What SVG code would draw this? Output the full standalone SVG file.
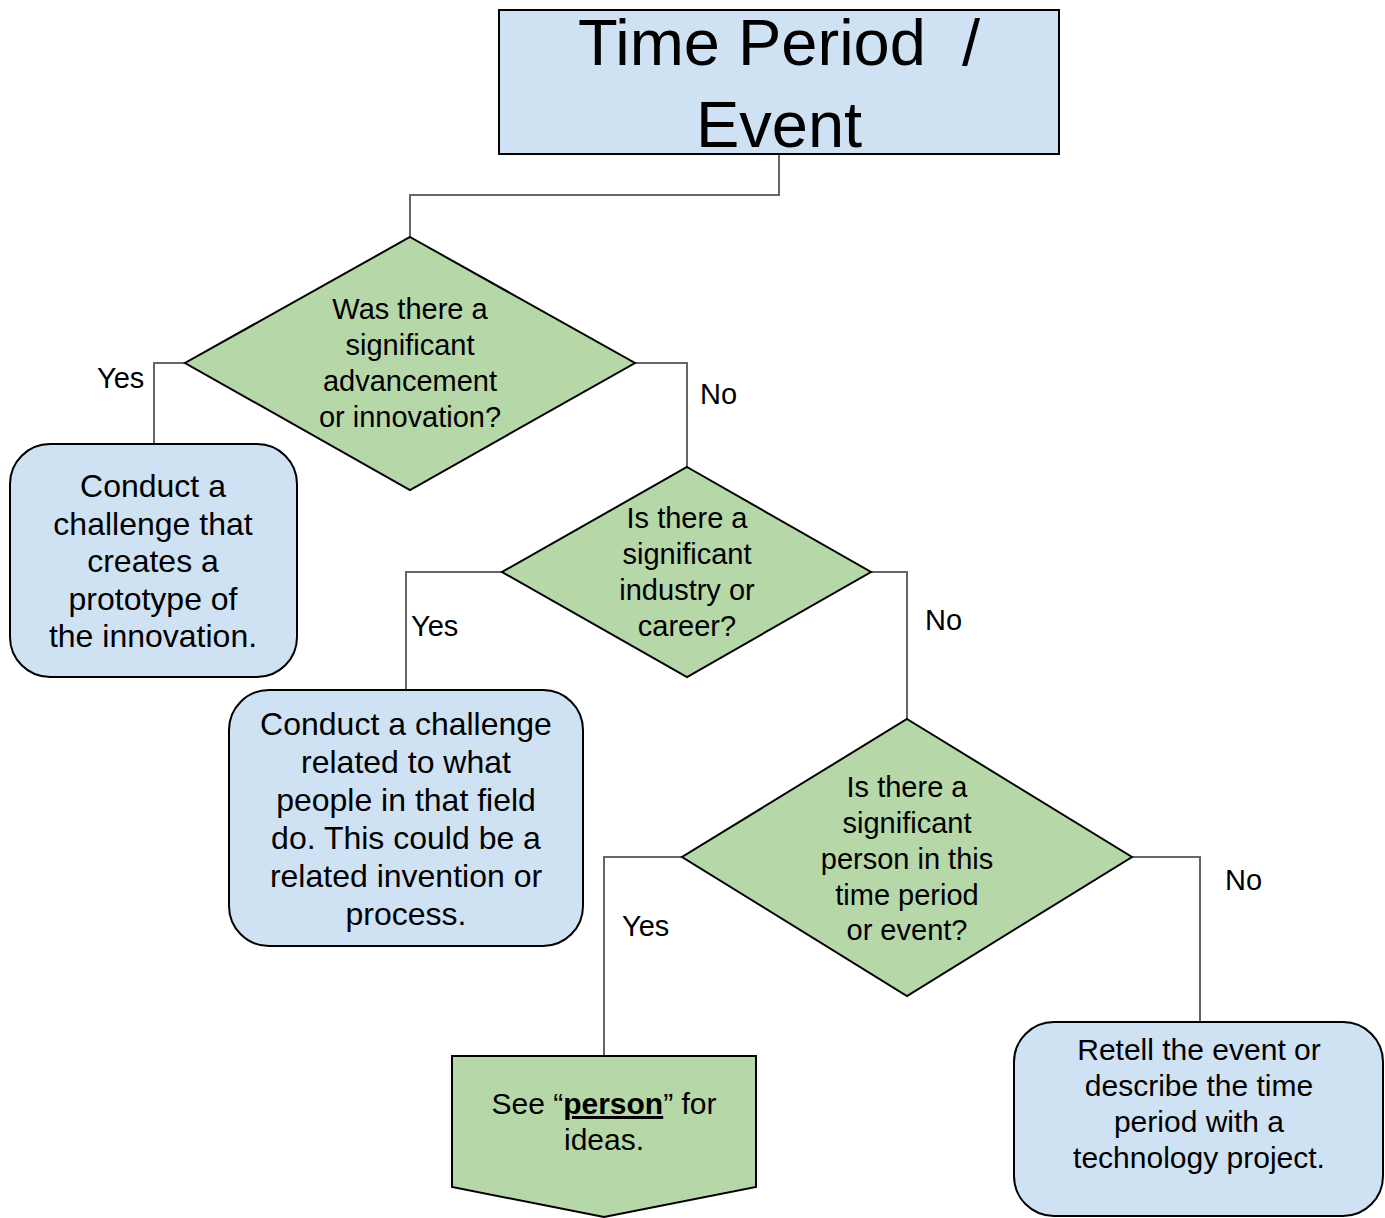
<svg xmlns="http://www.w3.org/2000/svg" width="1385" height="1218" viewBox="0 0 1385 1218">
<style>
.blue{fill:#cfe2f3;stroke:#000;stroke-width:2}
.green{fill:#b6d7a8;stroke:#000;stroke-width:2}
.conn{fill:none;stroke:#666;stroke-width:2}
text{font-family:"Liberation Sans",Arial,sans-serif;fill:#000;text-anchor:middle}
.q{font-size:29px}
.b{font-size:32px}
.s{font-size:30px}
.lbl{font-size:29px;text-anchor:start}
</style>
<rect width="1385" height="1218" fill="#fff"/>
<g id="connectors">
<polyline class="conn" points="779,154 779,195 410,195 410,237"/>
<polyline class="conn" points="185,363 154,363 154,444"/>
<polyline class="conn" points="635,363 687,363 687,467"/>
<polyline class="conn" points="502,572 406,572 406,690"/>
<polyline class="conn" points="871,572 907,572 907,719"/>
<polyline class="conn" points="682,857 604,857 604,1056"/>
<polyline class="conn" points="1132,857 1200,857 1200,1022"/>
<text class="lbl" x="97" y="388">Yes</text>
<text class="lbl" x="700" y="404">No</text>
<text class="lbl" x="411" y="636">Yes</text>
<text class="lbl" x="925" y="630">No</text>
<text class="lbl" x="622" y="936">Yes</text>
<text class="lbl" x="1225" y="890">No</text>
</g>
<g id="start">
<rect class="blue" x="499" y="10" width="560" height="144"/>
<text x="779" y="65" font-size="65" xml:space="preserve">Time Period  /</text>
<text x="779" y="147" font-size="65">Event</text>
</g>
<g id="q1">
<polygon class="green" points="410,237 635,363 410,490 185,363"/>
<text class="q" x="410" y="319">Was there a</text>
<text class="q" x="410" y="355">significant</text>
<text class="q" x="410" y="391">advancement</text>
<text class="q" x="410" y="427">or innovation?</text>
</g>
<g id="r1">
<rect class="blue" x="10" y="444" width="287" height="233" rx="40"/>
<text class="b" x="153" y="497">Conduct a</text>
<text class="b" x="153" y="535">challenge that</text>
<text class="b" x="153" y="572">creates a</text>
<text class="b" x="153" y="610">prototype of</text>
<text class="b" x="153" y="647">the innovation.</text>
</g>
<g id="q2">
<polygon class="green" points="687,467 871,572 687,677 502,572"/>
<text class="q" x="687" y="528">Is there a</text>
<text class="q" x="687" y="564">significant</text>
<text class="q" x="687" y="600">industry or</text>
<text class="q" x="687" y="636">career?</text>
</g>
<g id="r2">
<rect class="blue" x="229" y="690" width="354" height="256" rx="40"/>
<text class="b" x="406" y="735">Conduct a challenge</text>
<text class="b" x="406" y="773">related to what</text>
<text class="b" x="406" y="811">people in that field</text>
<text class="b" x="406" y="849">do. This could be a</text>
<text class="b" x="406" y="887">related invention or</text>
<text class="b" x="406" y="925">process.</text>
</g>
<g id="q3">
<polygon class="green" points="907,719 1132,857 907,996 682,857"/>
<text class="q" x="907" y="797">Is there a</text>
<text class="q" x="907" y="833">significant</text>
<text class="q" x="907" y="869">person in this</text>
<text class="q" x="907" y="905">time period</text>
<text class="q" x="907" y="940">or event?</text>
</g>
<g id="r3">
<polygon class="green" points="452,1056 756,1056 756,1187 604,1217 452,1187"/>
<text class="s" x="604" y="1114">See “<tspan font-weight="bold" text-decoration="underline">person</tspan>” for</text>
<text class="s" x="604" y="1150">ideas.</text>
</g>
<g id="r4">
<rect class="blue" x="1014" y="1022" width="369" height="194" rx="40"/>
<text class="s" x="1199" y="1060">Retell the event or</text>
<text class="s" x="1199" y="1096">describe the time</text>
<text class="s" x="1199" y="1132">period with a</text>
<text class="s" x="1199" y="1168">technology project.</text>
</g>
</svg>
